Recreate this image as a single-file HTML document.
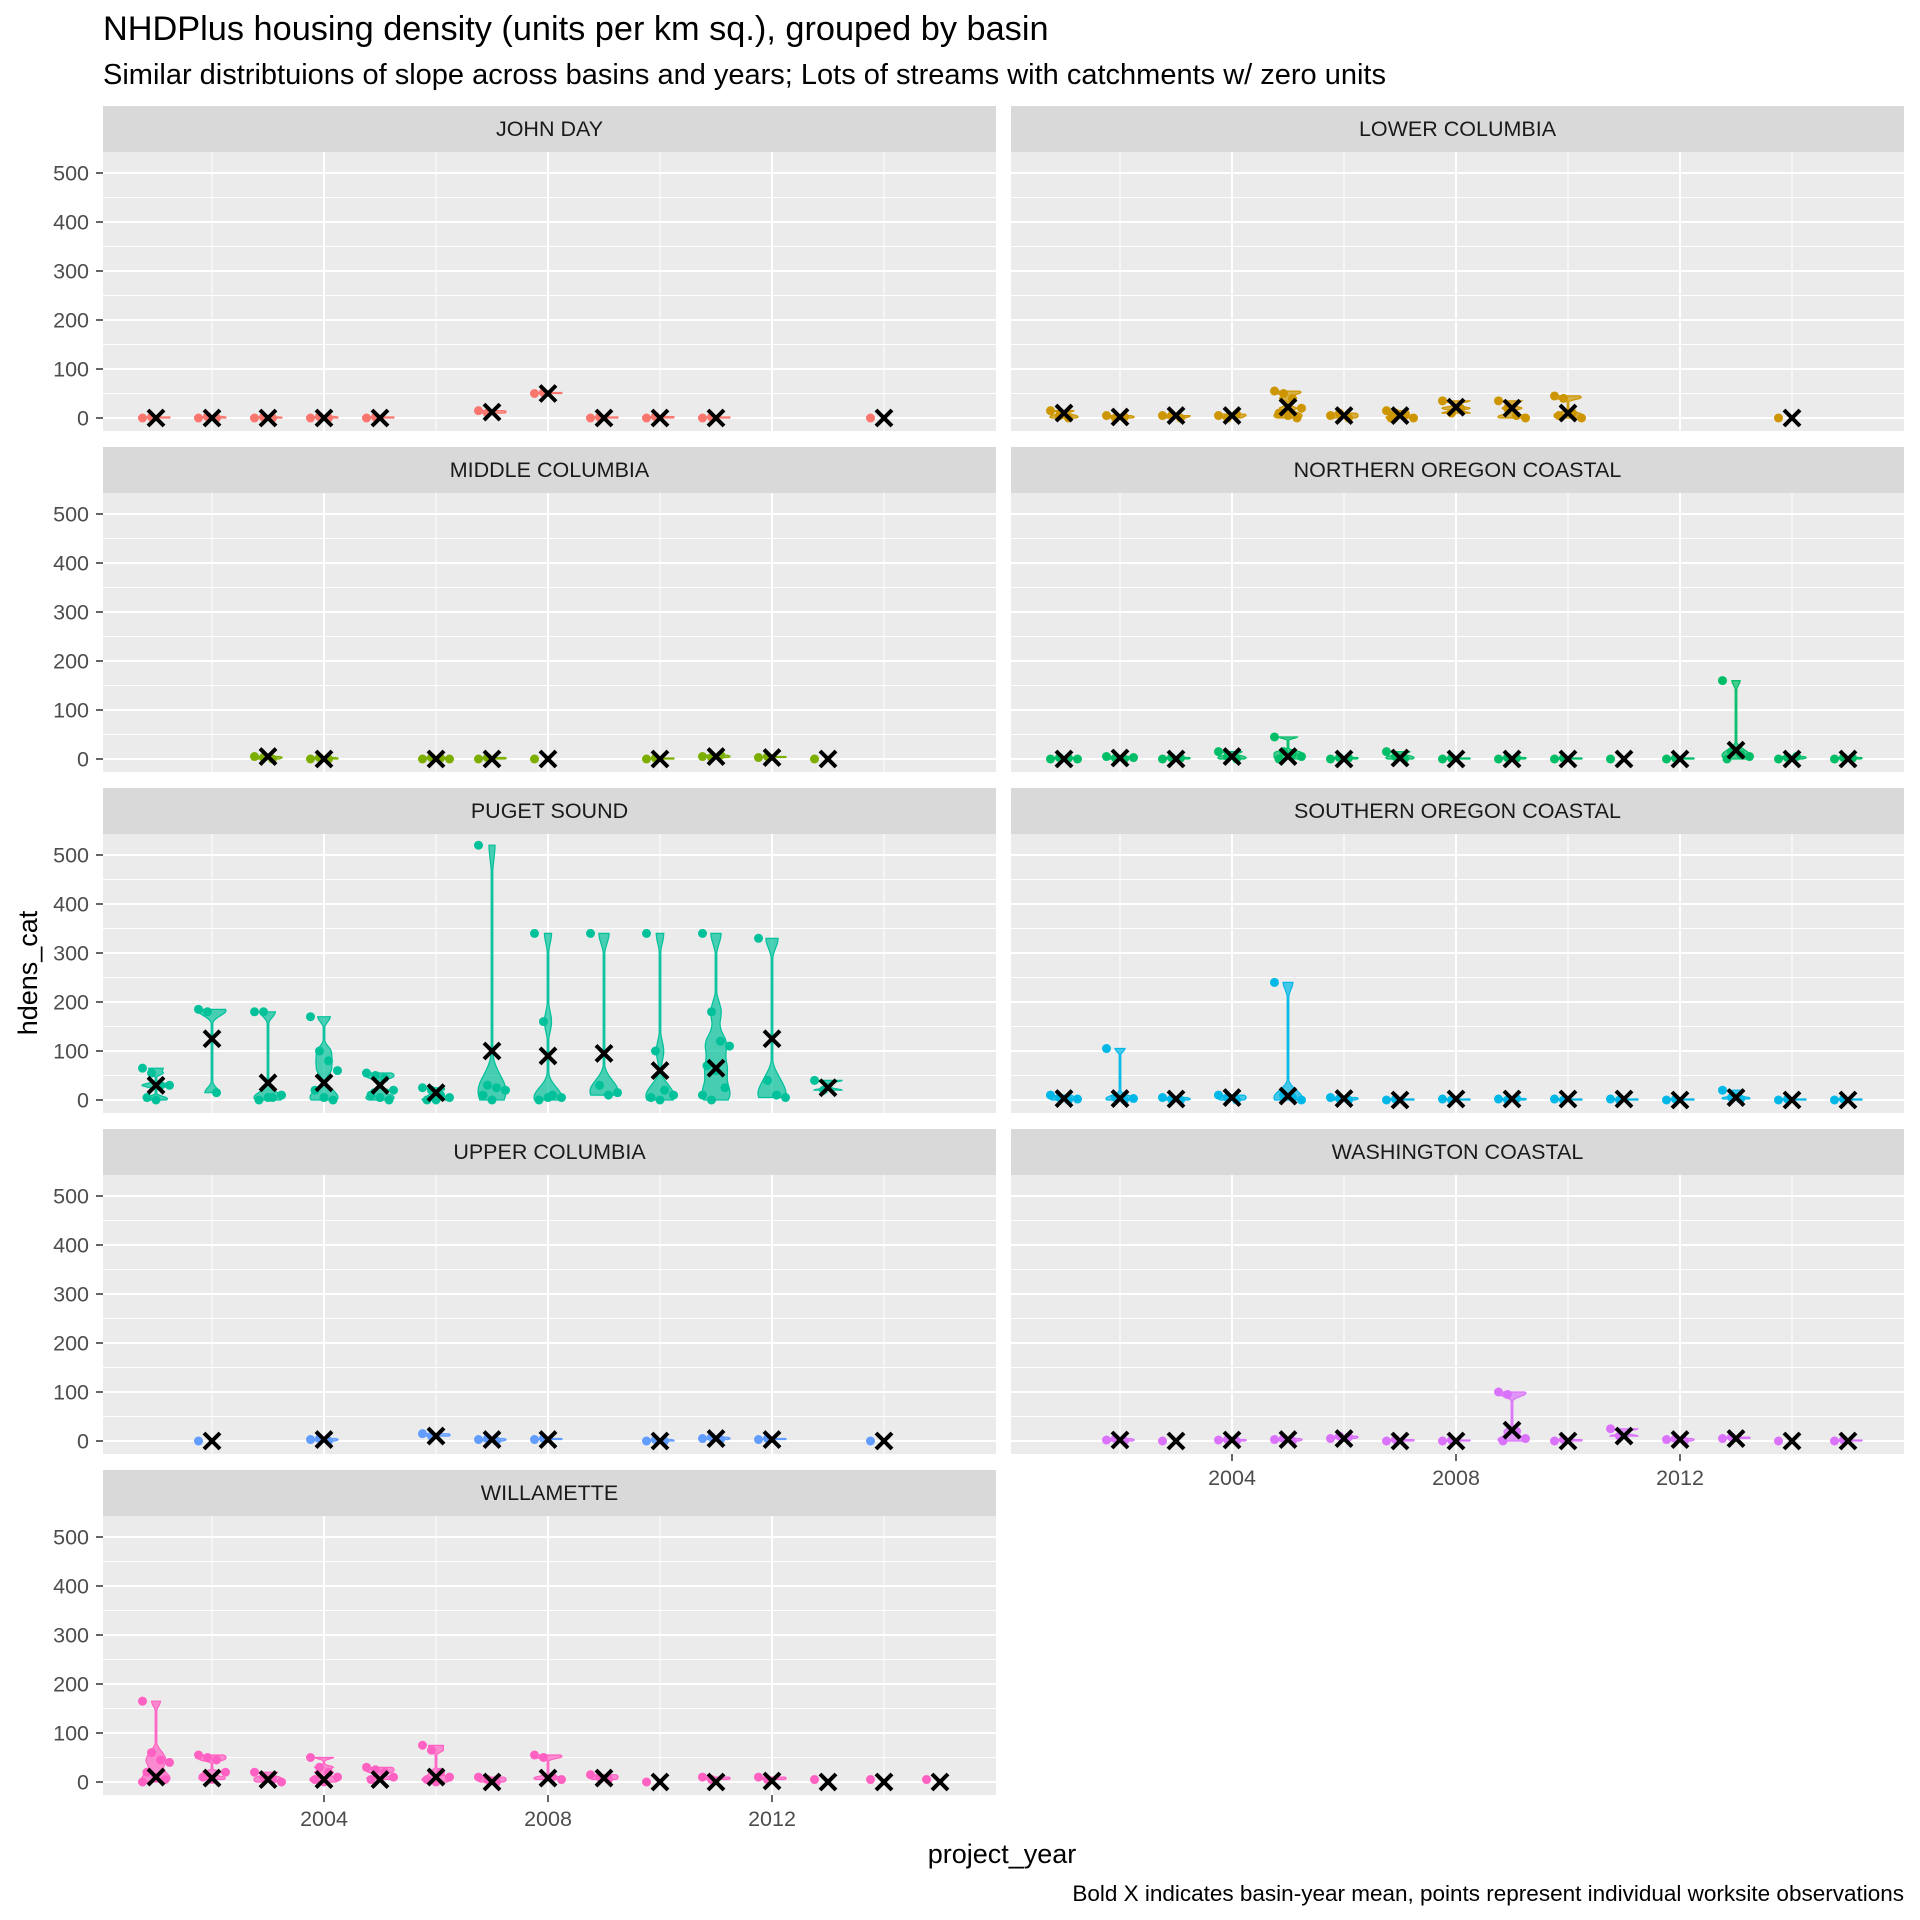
<!DOCTYPE html>
<html><head><meta charset="utf-8"><style>
body{margin:0;background:#fff}
svg{display:block;font-family:"Liberation Sans",Arial,sans-serif}
</style></head><body>
<svg id="chart" width="1920" height="1920" viewBox="0 0 1920 1920">
<text x="103" y="40" font-size="34.3" fill="#000">NHDPlus housing density (units per km sq.), grouped by basin</text>
<text x="103" y="84" font-size="29" fill="#000">Similar distribtuions of slope across basins and years; Lots of streams with catchments w/ zero units</text>
<text x="0" y="0" font-size="27" fill="#000" text-anchor="middle" transform="translate(37,973) rotate(-90)">hdens_cat</text>
<text x="1002" y="1863" font-size="27" fill="#000" text-anchor="middle">project_year</text>
<text x="1904" y="1901" font-size="22.5" fill="#000" text-anchor="end">Bold X indicates basin-year mean, points represent individual worksite observations</text>
<g id="panels"></g>
</svg>
<script>
const basins=["JOHN DAY","LOWER COLUMBIA","MIDDLE COLUMBIA","NORTHERN OREGON COASTAL","PUGET SOUND","SOUTHERN OREGON COASTAL","UPPER COLUMBIA","WASHINGTON COASTAL","WILLAMETTE"];
const colors=["#F8766D","#CD9600","#7CAE00","#00BE67","#00C19A","#00B8E7","#619CFF","#DB72FB","#FF61C3"];
const yTicks=[0,100,200,300,400,500];
const xTicks=[2004,2008,2012];
const years=[
[2001,2002,2003,2004,2005,2007,2008,2009,2010,2011,2014],
[2001,2002,2003,2004,2005,2006,2007,2008,2009,2010,2014],
[2003,2004,2006,2007,2008,2010,2011,2012,2013],
[2001,2002,2003,2004,2005,2006,2007,2008,2009,2010,2011,2012,2013,2014,2015],
[2001,2002,2003,2004,2005,2006,2007,2008,2009,2010,2011,2012,2013],
[2001,2002,2003,2004,2005,2006,2007,2008,2009,2010,2011,2012,2013,2014,2015],
[2002,2004,2006,2007,2008,2010,2011,2012,2014],
[2002,2003,2004,2005,2006,2007,2008,2009,2010,2011,2012,2013,2014,2015],
[2001,2002,2003,2004,2005,2006,2007,2008,2009,2010,2011,2012,2013,2014,2015]];
const means=[
[0,0,0,0,0,12,50,0,0,0,0],
[10,2,5,5,22,5,5,22,20,10,0],
[5,0,0,0,0,0,5,3,0],
[0,2,0,5,5,0,2,0,0,0,0,0,18,0,0],
[30,125,35,35,30,15,100,90,95,60,65,125,25],
[3,3,2,5,8,3,0,2,2,2,2,0,5,0,0],
[0,3,10,3,3,0,5,3,0],
[2,0,2,3,5,0,0,22,0,10,3,5,0,0],
[10,8,5,5,5,10,0,8,8,0,0,2,0,0,0]];
const points=[
[[0,2],[0,3,0],[0,2,0],[0,3,0],[0,2],[15,10],[50,52],[0,2],[0,3],[0,2],[0]],
[[15,5,0],[5,0,2],[5,5,0],[5,0,8],[55,50,40,20,10,5,0],[5,10,0],[15,10,5,0,0],[35,10,20],[35,20,5,0],[45,40,10,0,5],[0]],
[[5,3,0],[0,3,0],[0,3,2,0],[0,3],[0],[0,2],[5,3,8],[3,5],[0]],
[[0,3,2,0],[5,2,0,3],[0,3,2],[15,5,0],[45,15,10,5,0],[0,3,2],[15,5,0],[0,2],[0,3,2],[0,2],[0],[0,2],[160,15,10,5,0],[0,3,5],[0,3,2]],
[[65,55,30,30,5,0],[185,180,15],[180,180,5,10,0,5],[170,100,80,60,20,5,0],[55,50,45,20,10,5,0],[25,20,10,5,0,0],[520,30,25,20,10,0],[340,160,10,5,0,5],[340,30,10,15],[340,100,20,10,5,0],[340,180,120,110,70,60,25,10,0],[330,40,10,5],[40,20]],
[[10,5,0,2],[105,5,0,3],[5,2,0],[10,5,0],[240,10,5,0],[5,3,0],[0,2],[2,0],[2,0,3],[2,0],[2,0],[0,2],[20,5,2],[0,2],[0,2]],
[[0],[3,5,0],[15,10],[3,5,0],[3,5],[0,3,0],[5,8,3],[3,5],[0]],
[[2,5,0],[0],[2,3,0],[3,5,0],[5,10,8],[0,3],[0,2],[100,95,20,5,0],[0,3],[25,10],[3,5,0],[5,8],[0],[0,2]],
[[165,60,45,40,20,10,5,0],[55,50,45,20,10,5],[20,10,5,0],[50,30,20,10,5,0],[30,25,20,10,5],[75,65,20,10,5,0],[10,5,0],[55,50,10,5],[15,10,5],[0],[10,5],[10,5],[5],[5],[5]]];

const NS="http://www.w3.org/2000/svg";
const root=document.getElementById('panels');
function mk(tag,attrs,parent){const e=document.createElementNS(NS,tag);for(const k in attrs)e.setAttribute(k,attrs[k]);(parent||root).appendChild(e);return e;}
const colX=[103,1011],panW=893,rowTop=106,rowStep=341,stripH=46,panH=279;
function xs(col,yr){return colX[col]+221+(yr-2004)*56;}
function ys(row,v){return rowTop+312+row*rowStep-v*0.49;}

basins.forEach((b,i)=>{
  const col=i%2,row=Math.floor(i/2);
  const g=mk('g',{});
  
  
  const st=mk('rect',{x:colX[col],y:rowTop+row*rowStep,width:panW,height:stripH,fill:'#d9d9d9'},g);
  
  const stt=mk('text',{x:colX[col]+panW/2,y:rowTop+row*rowStep+30,'font-size':21.5,'text-anchor':'middle',fill:'#1a1a1a'},g);
  stt.textContent=b;
  
  const pt=rowTop+row*rowStep+stripH;
  const bg=mk('rect',{x:colX[col],y:pt,width:panW,height:panH,fill:'#ebebeb'},g);
  
  const grid=mk('g',{},g);
  
  for(let v=50;v<=550;v+=100){const y=ys(row,v);if(y>pt)mk('line',{x1:colX[col],x2:colX[col]+panW,y1:y,y2:y,stroke:'#fff','stroke-width':1},grid);}
  [2002,2006,2010,2014].forEach(t=>{const x=xs(col,t);mk('line',{x1:x,x2:x,y1:pt,y2:pt+panH,stroke:'#fff','stroke-width':1},grid);});
  yTicks.forEach(v=>{const y=ys(row,v);mk('line',{x1:colX[col],x2:colX[col]+panW,y1:y,y2:y,stroke:'#fff','stroke-width':2},grid);});
  xTicks.forEach(t=>{const x=xs(col,t);mk('line',{x1:x,x2:x,y1:pt,y2:pt+panH,stroke:'#fff','stroke-width':2},grid);});
  if(col===0){
    const ax=mk('g',{},g);
    
    yTicks.forEach(v=>{const y=ys(row,v);
      mk('line',{x1:96,x2:103,y1:y,y2:y,stroke:'#333','stroke-width':1.5},ax);
      const t=mk('text',{x:89,y:y+7.5,'font-size':21.5,'text-anchor':'end',fill:'#4d4d4d'},ax);t.textContent=v;});
  }
  if(i===7||i===8){
    const ax=mk('g',{},g);
    
    xTicks.forEach(v=>{const x=xs(col,v);
      mk('line',{x1:x,x2:x,y1:pt+panH,y2:pt+panH+7,stroke:'#333','stroke-width':1.5},ax);
      const t=mk('text',{x:x,y:pt+panH+31,'font-size':21.5,'text-anchor':'middle',fill:'#4d4d4d'},ax);t.textContent=v;});
  }
  const c=colors[i];
  years[i].forEach((yr,j)=>{
    const pts=points[i][j];const cx=xs(col,yr);
    const grp=mk('g',{},g);
    
    const mn=Math.min(...pts),mx=Math.max(...pts);
    if(pts.length>1&&mx>mn){
      const bw=Math.max((mx-mn)*0.06,3);const n=60;const dens=[];
      for(let k=0;k<=n;k++){const v=mn+(mx-mn)*k/n;let d=0;pts.forEach(p=>{d+=Math.exp(-0.5*((v-p)/bw)**2);});dens.push([v,d]);}
      const md=Math.max(...dens.map(d=>d[1]));
      let l=[],r=[];dens.forEach(([v,d])=>{const w=Math.max(d/md*14,0.8);l.push([cx-w,ys(row,v)]);r.unshift([cx+w,ys(row,v)]);});
      const vp=mk('path',{d:'M'+l.concat(r).map(p=>p[0].toFixed(1)+','+p[1].toFixed(1)).join('L')+'Z',fill:c,'fill-opacity':0.7,stroke:c,'stroke-width':1.2},grp);
      
    }
    pts.forEach((p,k)=>{
      const off=((k*37)%7-3)*4.5;
      const ci=mk('circle',{cx:cx+off,cy:ys(row,p),r:4.5,fill:c},grp);
      
    });
    const mx0=cx,my=ys(row,means[i][j]);
    const xm=mk('path',{d:`M${mx0-8},${my-8}L${mx0+8},${my+8}M${mx0-8},${my+8}L${mx0+8},${my-8}`,stroke:'#000','stroke-width':4},grp);
    
  });
});
</script>
</body></html>
